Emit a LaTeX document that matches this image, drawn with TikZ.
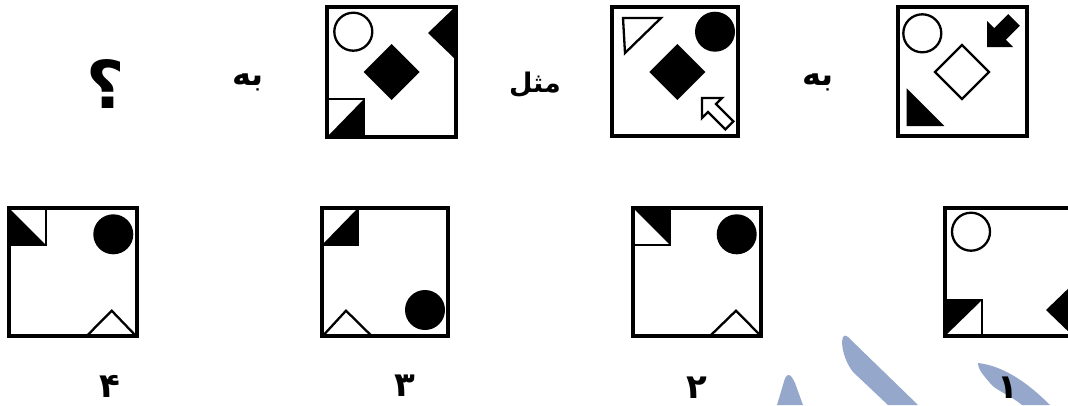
\documentclass[tikz,border=0pt]{standalone}
\usepackage{fontspec}
\newfontfamily\arabicfont[Script=Arabic]{DejaVu Sans}
\TeXXeTstate=1
\definecolor{wm}{HTML}{95A8CB}
\begin{document}
\begin{tikzpicture}[x=1pt,y=-1pt,
  frame/.style={draw,line width=3.2pt},
  outl/.style={draw,line width=2.3pt},
  sq/.style={draw,line width=2.8pt},
  lbl/.style={font=\arabicfont\bfseries\fontsize{32}{32}\selectfont,inner sep=0pt},
  num/.style={font=\arabicfont\bfseries\fontsize{34}{34}\selectfont,inner sep=0pt}]
\useasboundingbox (0,0) rectangle (1068,405);
\fill[white] (0,0) rectangle (1068,405);
\clip (0,0) rectangle (1068,405);
% watermark
\fill[wm] (777,405) -- (783,385) .. controls (786,372) and (790,372) .. (795,383) -- (803,405) -- cycle;
\fill[wm] (843,337) .. controls (840,345) and (845,362) .. (853,372) -- (888,405) -- (918,405) -- (848,337) .. controls (846,335) and (844,335) .. (843,337) -- cycle;
\fill[wm] (978,363) .. controls (1005,366) and (1030,385) .. (1050,405) -- (1022,405) .. controls (1010,395) and (995,390) .. (990,383) .. controls (985,377) and (978,370) .. (978,363) -- cycle;
% top row texts
\node[font=\arabicfont\bfseries\fontsize{66}{66}\selectfont,inner sep=0pt] (q) at (106,84) {\beginR ؟\endR};
\node[lbl] (be1) at (248,82) {\beginR به\endR};
\node[lbl,font=\arabicfont\bfseries\fontsize{27}{27}\selectfont] (mesl) at (535,85) {\beginR مثل\endR};
\node[lbl] (be2) at (818,82) {\beginR به\endR};
% numbers
\node[num] (n4) at (110,386) {۴};
\node[num] (n3) at (405,386) {۳};
\node[num] (n2) at (697,388) {۲};
\node[num] (n1) at (1008,388) {۱};
% Box A
\draw[outl] (353.3,31.7) circle[radius=19];
\fill (391.5,44) -- (419.5,72) -- (391.5,100) -- (363.5,72) -- cycle;
\fill (454,8) -- (428,33) -- (454,58) -- cycle;
\fill (364,99) -- (364,137) -- (327,137) -- cycle;
\draw[sq] (327,99) rectangle (364,137);
\draw[frame] (327,7) rectangle (456,137);
% Box B
\draw[outl,line join=miter] (623,18) -- (661,18) -- (625,53) -- cycle;
\fill (715,31.7) circle[radius=20];
\fill (677.3,44) -- (705.3,72) -- (677.3,100) -- (649.3,72) -- cycle;
\draw[outl,line join=miter] (702,98) -- (722,98) -- (716,104) -- (733.4,121.4) -- (725.4,129.4) -- (708,112) -- (702,118) -- cycle;
\draw[frame] (612,7) rectangle (738,136);
% Box C
\draw[outl] (922.3,33.3) circle[radius=19];
\draw[outl] (962,45) -- (989,72) -- (962,99) -- (935,72) -- cycle;
\fill (987,47) -- (1013,47) -- (1005.8,39.8) -- (1019.8,25.8) -- (1008.2,14.2) -- (994.2,28.2) -- (987,21) -- cycle;
\fill (906.7,88.3) -- (906.7,126) -- (944.3,126) -- cycle;
\draw[frame] (898,7) rectangle (1027,136);
% Box 4
\fill (9,208) -- (9,245) -- (46,245) -- cycle;
\draw[sq] (9,208) rectangle (46,245);
\fill (113.3,234.3) circle[radius=20];
\draw[outl] (86.7,336) -- (111.7,310.7) -- (136,336);
\draw[frame] (9,208) rectangle (137,336);
% Box 3
\fill (358,208) -- (358,245) -- (322,245) -- cycle;
\draw[sq] (322,208) rectangle (358,245);
\fill (425,310) circle[radius=20];
\draw[outl] (322.7,336) -- (346,310.7) -- (371.7,336);
\draw[frame] (322,208) rectangle (448,336);
% Box 2
\fill (633,208) -- (670,208) -- (670,245) -- cycle;
\draw[sq] (633,208) rectangle (670,245);
\fill (736.7,234.3) circle[radius=20];
\draw[outl] (710,336) -- (736,310.7) -- (761,336);
\draw[frame] (633,208) rectangle (761,336);
% Box 1
\draw[outl] (971,231.7) circle[radius=19];
\fill (945,300) -- (982,300) -- (945,336) -- cycle;
\draw[sq] (945,300) rectangle (982,336);
\fill (1073,284) -- (1046,310) -- (1073,336) -- cycle;
\draw[frame] (945,208) rectangle (1073,336);
\end{tikzpicture}
\end{document}
